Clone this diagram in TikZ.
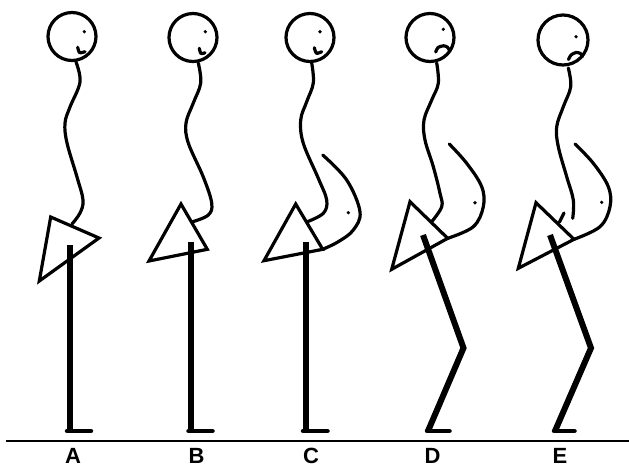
\documentclass[tikz,border=0pt]{standalone}
\usepackage{fontspec}
\setmainfont{Liberation Sans}
\begin{document}
\begin{tikzpicture}[x=1pt,y=-1pt,
  body/.style={line width=3.2pt,line cap=round,line join=round},
  pelvis/.style={line width=3.2pt,line join=miter},
  leg/.style={line width=6pt,line join=miter},
  foot/.style={line width=4.5pt,line cap=round},
  head/.style={line width=3.2pt},
  lbl/.style={font=\bfseries\fontsize{22}{22}\selectfont,anchor=base,inner sep=0pt}]
\useasboundingbox (0,0) rectangle (629,467);

% ground
\draw[line width=1.5pt] (6,441) -- (629,441);

% ---------- A ----------
\draw[head] (72,36.5) circle (24);
\fill (84.3,31.7) circle (1.8);
\draw[body] plot[smooth] coordinates {(77.7,47.3)(79.6,52.6)(85,51.7)};
\draw[body] plot[smooth,tension=0.6] coordinates {(76,62)(80,82)(70,107)(65,123)(67,143)(77,177)(83,200)(80,213)(72,224)};
\draw[pelvis] (50.7,217) -- (99,238) -- (39.3,281) -- cycle;
\draw[leg] (69.5,245) -- (69.5,431);
\draw[foot] (67,431) -- (91,431);

% ---------- B ----------
\draw[head] (193,37.5) circle (24);
\fill (205.3,31.7) circle (1.8);
\draw[body] plot[smooth] coordinates {(199.3,48.3)(201,53.6)(205,52.7)};
\draw[body] plot[smooth,tension=0.6] coordinates {(198.3,63)(200.7,83)(193.3,103)(186,123)(188.3,143)(203.3,177)(211.7,203)(208.3,215)(192.7,221.7)};
\draw[pelvis] (181,204) -- (207.3,249.3) -- (149,261) -- cycle;
\draw[leg] (191,242) -- (191,431);
\draw[foot] (188.5,431) -- (212.5,431);

% ---------- C ----------
\draw[head] (310,37.5) circle (24);
\fill (320,31.7) circle (1.8);
\draw[body] plot[smooth] coordinates {(314.3,47.7)(316.5,53.2)(321.7,51.7)};
\draw[body] plot[smooth,tension=0.6] coordinates {(311.7,63)(313.3,83)(306.7,101.7)(300.7,120)(303.3,143.3)(318.3,178.3)(326.7,200)(323.3,213.3)(307.3,221.7)};
\draw[body] plot[smooth,tension=0.6] coordinates {(322.7,155)(346.7,180)(360,211.7)(353.3,230)(338.3,241.7)(322.7,249.3)};
\fill (348.3,212.7) circle (1.8);
\draw[pelvis] (295.7,204) -- (322.7,249.3) -- (264,260.7) -- cycle;
\draw[leg] (305.5,242) -- (305.5,431);
\draw[foot] (303,431) -- (327.5,431);

% ---------- D ----------
\draw[head] (430,37.5) circle (24);
\fill (443.3,29.3) circle (1.8);
\draw[body] plot[smooth] coordinates {(435.7,52)(438,47.5)(443.5,45.8)(447.5,47.2)(449.5,50.5)};
\draw[body] plot[smooth,tension=0.6] coordinates {(436.7,63)(438.3,83.3)(431.7,100)(424,120)(425,140)(433.3,166.7)(440,193.3)(441.7,206.7)(431.7,221.7)};
\draw[body] plot[smooth,tension=0.6] coordinates {(449.3,144)(466.7,163.3)(481.7,186.7)(483.3,206.7)(473.3,226.7)(447.7,238.3)};
\fill (475,202.7) circle (1.8);
\draw[pelvis] (410,201.7) -- (447.7,238.3) -- (391.7,269.3) -- cycle;
\draw[leg] (423,235) -- (463.5,348) -- (428,431);
\draw[foot] (427,431) -- (449.5,431);

% ---------- E ----------
\draw[head] (563,40) circle (25);
\fill (576,36.7) circle (1.8);
\draw[body] plot[smooth] coordinates {(568.5,59.5)(571,55)(576,52.5)(580.5,53.5)(582.5,56.5)};
\draw[body] plot[smooth,tension=0.6] coordinates {(568.3,68)(570.7,86.7)(563.3,106.7)(556.7,126.7)(558.3,146.7)(566.7,176.7)(573.3,200)(572.7,218.3)};
\draw[body] (564,213) -- (559.5,222);
\draw[body] plot[smooth,tension=0.6] coordinates {(575,144)(593.3,163.3)(608.3,186.7)(610,206.7)(600,226.7)(574,239.3)};
\fill (601.7,202.3) circle (1.8);
\draw[pelvis] (536,202.7) -- (574,239.3) -- (518.3,268.3) -- cycle;
\draw[leg] (550,235) -- (591,348) -- (555,431);
\draw[foot] (554,431) -- (574.5,431);

% labels
\node[lbl] (la) at (73,463) {A};
\node[lbl] (lb) at (196.5,463) {B};
\node[lbl] (lc) at (311,463) {C};
\node[lbl] (ld) at (432.5,463) {D};
\node[lbl] (le) at (560,463) {E};
\end{tikzpicture}
\end{document}
